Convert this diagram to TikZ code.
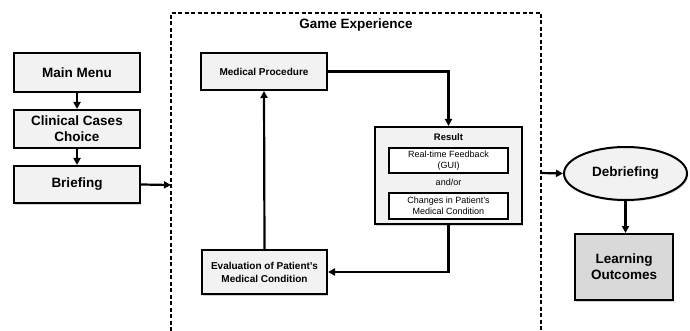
\documentclass[tikz,border=0pt]{standalone}
\usepackage{fontspec}
\setmainfont{Liberation Sans}
\usetikzlibrary{arrows.meta,positioning,calc,shapes.geometric,shadows}
\definecolor{BoxGrey}{HTML}{F2F2F2}
\definecolor{OutGrey}{HTML}{D9D9D9}

\begin{document}
\begin{tikzpicture}[x=1pt,y=-1pt,
    bigtxt/.style={font=\fontsize{13.5}{16}\selectfont\bfseries},
    midtxt/.style={font=\fontsize{10}{13}\selectfont\bfseries},
    smalltxt/.style={font=\fontsize{9}{10.5}\selectfont},
    stagebox/.style={draw,line width=2pt,fill=BoxGrey,align=center,inner sep=2pt,
      drop shadow={opacity=0.35,shadow xshift=1.2pt,shadow yshift=-1.5pt}},
    flow/.style={-{Triangle[length=7pt,width=7pt]},line width=2.2pt}]
        \useasboundingbox (0,0) rectangle (690,331);
        % game experience frame
        \draw[line width=1.5pt,dash pattern=on 4pt off 2.5pt] (171,331)--(171,13)--(541,13)--(541,331);
        \node[bigtxt] (gametitle) at (356,25) {Game Experience};
        \coordinate (gein) at (171,185);
        \coordinate (geout) at (541,173);
        % left column
        \node[stagebox,bigtxt,minimum width=126pt,minimum height=39pt] (mainmenu) at (77,72.5) {Main Menu};
        \node[stagebox,bigtxt,minimum width=126pt,minimum height=38pt] (cases) at (77,129) {Clinical Cases\\Choice};
        \node[stagebox,bigtxt,minimum width=126pt,minimum height=37pt] (briefing) at (77,184.5) {Briefing};
        \draw[flow] (mainmenu)--(cases);
        \draw[flow] (cases)--(briefing);
        \draw[flow] (briefing.east)--(gein);
        % game loop
        \node[stagebox,midtxt,minimum width=126pt,minimum height=37pt] (medproc) at (264,71.5) {Medical Procedure};
        \node[stagebox,minimum width=147pt,minimum height=97pt] (result) at (448.5,175.5) {};
        \node[midtxt,font=\fontsize{9.5}{11}\selectfont\bfseries] (reslbl) at (448.5,137) {Result};
        \node[draw,line width=2pt,fill=white,smalltxt,align=center,inner sep=1pt,minimum width=119pt,minimum height=25pt] (feedback) at (448.5,160.5) {Real-time Feedback\\(GUI)};
        \node[smalltxt] (andor) at (448.5,182) {and/or};
        \node[draw,line width=2pt,fill=white,smalltxt,align=center,inner sep=1pt,minimum width=119pt,minimum height=26pt] (changes) at (448.5,206) {Changes in Patient's\\Medical Condition};
        \node[stagebox,midtxt,minimum width=125pt,minimum height=44pt] (evaluation) at (264.5,272) {Evaluation of Patient's\\Medical Condition};
        \draw[flow] (medproc.east)-|(result.north);
        \draw[flow] (result.south)|-(evaluation.east);
        \draw[flow] (evaluation.north)--(medproc.south);
        % right column
        \node[stagebox,ellipse,bigtxt,minimum width=123pt,minimum height=53pt] (debriefing) at (625.5,173.5) {Debriefing};
        \node[stagebox,bigtxt,fill=OutGrey,minimum width=98pt,minimum height=66pt] (outcomes) at (624,267) {Learning\\Outcomes};
        \draw[flow] (geout)--(debriefing.west);
        \draw[flow] (debriefing.south)--(debriefing.south|-outcomes.north);
      \end{tikzpicture}
\end{document}
